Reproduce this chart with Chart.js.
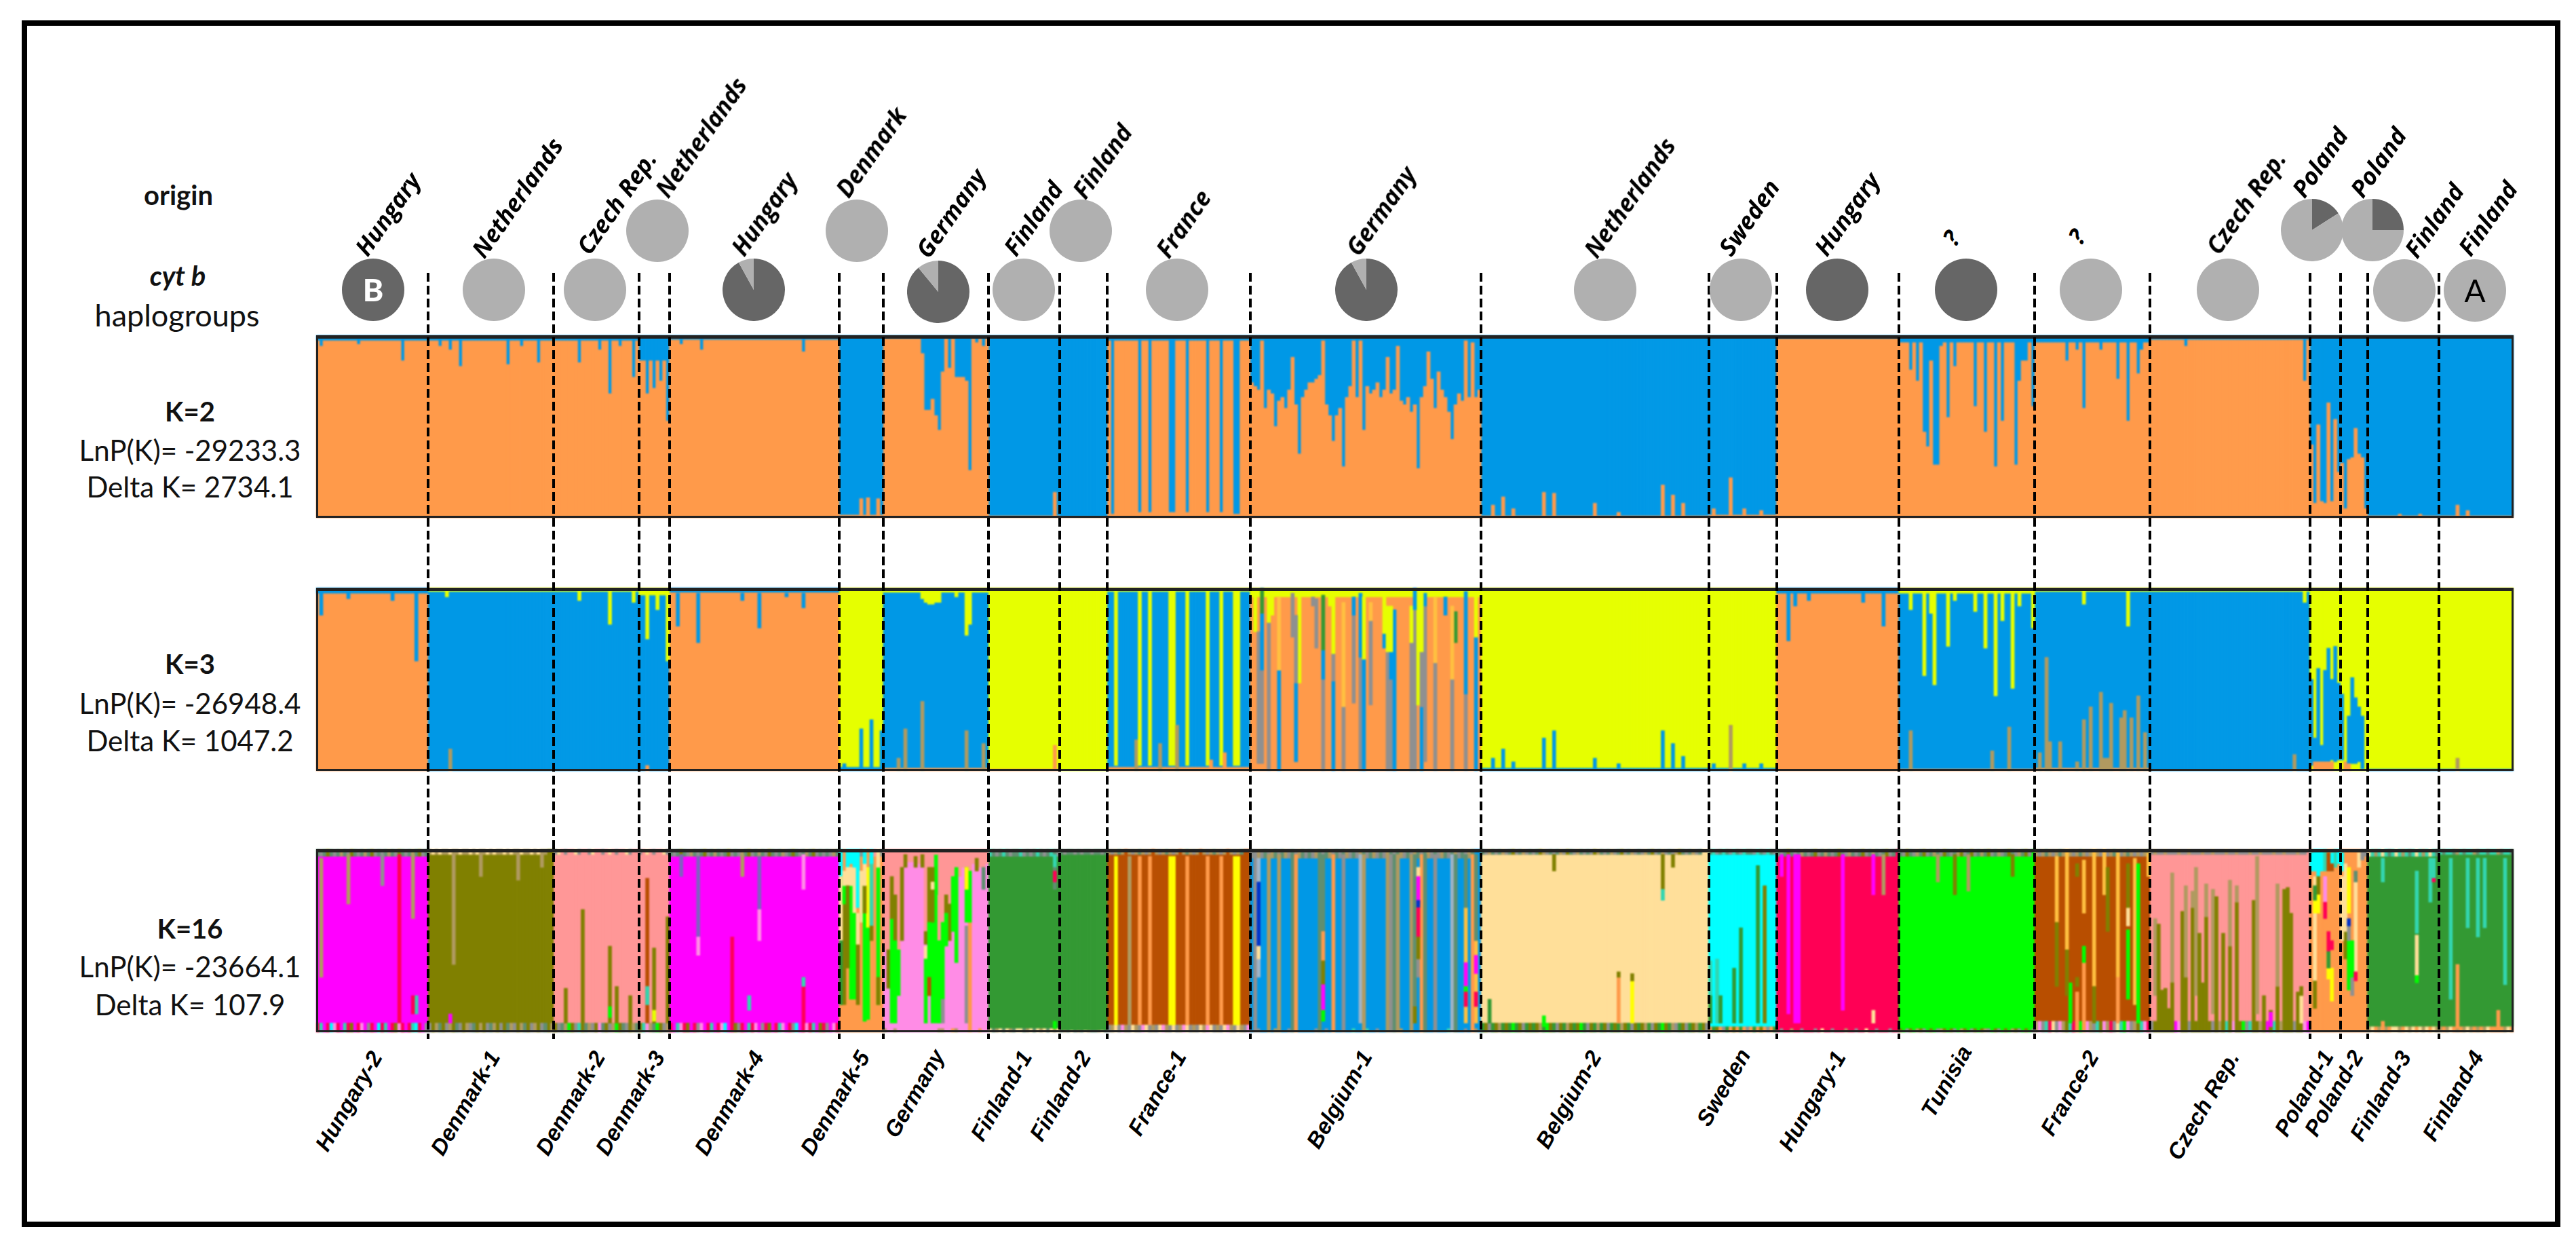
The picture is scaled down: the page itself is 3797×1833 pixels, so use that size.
<!DOCTYPE html>
<html lang="en">
<head>
<meta charset="UTF-8">
<title>Population structure by origin and cyt b haplogroup</title>
<script src="https://cdn.jsdelivr.net/npm/chart.js"></script>
<style>
  body { margin: 0; background: #fff; width: 3797px; height: 1833px; position: relative; overflow: hidden; }
  #frame { position: absolute; left: 32px; top: 30px; width: 3726px; height: 1762px; border: 8px solid #000; }
  .panel { position: absolute; left: 466px; width: 3239px; }
  .panel canvas { display: block; filter: blur(0.8px); }
  .panel .box { position: absolute; left: 0; top: 0; right: 0; bottom: 0; border: 3px solid #222; border-top-width: 5px; box-sizing: border-box; }
  .pie { position: absolute; width: 92px; height: 92px; }
  .sep { position: absolute; top: 402px; height: 1129px; width: 4px;
         background: repeating-linear-gradient(to bottom, #000 0 13px, transparent 13px 19px); }
  .txt { position: absolute; white-space: nowrap; color: #111; font-family: Lato, sans-serif; line-height: 1; transform: translate(-50%, -50%); }
  .origin { position: absolute; white-space: nowrap; color: #000; font: italic 700 35px "Open Sans", sans-serif; line-height: 1; transform-origin: 0 50%; transform: translateY(-50%) rotate(-55deg); }
  .group { position: absolute; white-space: nowrap; color: #000; font: italic bold 33px "Liberation Sans", sans-serif; line-height: 1; transform-origin: 0 50%; transform: translateY(-50%) rotate(-60deg); }
</style>
</head>
<body>
<div id="frame"></div>
<div class="panel" style="top:494px;height:269px"><canvas id="k2" width="3239" height="269"></canvas><div class="box"></div></div>
<div class="panel" style="top:866px;height:270px"><canvas id="k3" width="3239" height="270"></canvas><div class="box"></div></div>
<div class="panel" style="top:1251px;height:270px"><canvas id="k16" width="3239" height="270"></canvas><div class="box"></div></div>
<script>
const groupNames = ['Hungary-2','Denmark-1','Denmark-2','Denmark-3','Denmark-4','Denmark-5','Germany','Finland-1','Finland-2','France-1','Belgium-1','Belgium-2','Sweden','Hungary-1','Tunisia','France-2','Czech Rep.','Poland-1','Poland-2','Finland-3','Finland-4'];
const groupSizes = [33,37,25,9,50,13,31,21,14,42,68,67,20,36,40,34,47,9,8,21,22];
const originNames = ['Hungary','Netherlands','Czech Rep.','Netherlands','Hungary','Denmark','Germany','Finland','Finland','France','Germany','Netherlands','Sweden','Hungary','?','?','Czech Rep.','Poland','Poland','Finland','Finland'];

// cyt b haplogroup share per group, B (dark) then A (light), clockwise from 12 o'clock
const pieDark = [100,0,0,0,92,0,89,0,0,0,92,0,0,100,100,0,0,16,25,0,0];
const pieLight = [0,100,100,100,8,100,11,100,100,100,8,100,100,0,0,100,100,84,75,100,100];

// K=2: orange share of each individual, group level then the ones that differ
const k2Orange = [97,97,97,86,97.5,1.5,98,1,0.5,97,70,1,1.5,98,96,96,97.5,9,5,1,1];
const belgium1Orange = [74,72,70,97,60,70,68,50,64,66,60,70,88,62,35,66,70,74,74,76,78,97,62,56,42,56,60,28,66,72,97,66,97,48,72,68,70,74,66,70,88,68,70,94,64,62,66,58,62,27,66,72,91,76,60,80,70,66,58,43,62,68,64,97,66,96,66,70];
const k2Dips = [
  [[1,94],[25,86],[12,95]],
  [[3,94],[6,92],[9,83],[23,84],[27,94],[32,85]],
  [[7,85],[13,92],[16,68],[19,94],[23,77]],
  [[2,68],[4,71],[6,75],[8,53]],
  [[3,95],[9,92],[39,91]],
  [[6,10.5],[8,11],[11,10.5]],
  [[11,90],[12,59],[13,59],[14,65],[15,56],[16,48],[17,80],[19,82],[21,77],[22,77],[23,77],[24,75],[25,26],[27,96],[29,94]],
  [[19,14]],
  [],
  [[1,2],[9,3],[12,3],[18,3],[19,3],[23,3],[29,3],[33,3],[37,2],[38,2]],
  belgium1Orange.map((v, i) => [i, v]),
  [[3,7],[6,11.5],[9,5],[18,14],[21,13.5],[33,8],[40,3],[53,18],[56,12.5],[59,8]],
  [[1,5],[6,22],[10,5],[15,4]],
  [],
  [[3,81],[5,75],[7,47],[8,39],[9,86],[10,29],[11,29],[12,94],[14,55],[16,83],[22,61],[25,47],[28,28],[30,53],[34,29],[35,75],[36,86],[37,86],[39,61]],
  [[9,86],[12,92],[14,60],[19,92],[24,76],[27,53],[30,79],[31,92]],
  [[10,94],[45,75]],
  [[0,40],[2,51],[4,8],[5,63],[7,54],[8,25],[1,8],[3,9]],
  [[0,30],[2,32],[3,33],[4,49],[5,35],[6,33]],
  [[9,2],[15,2]],
  [[5,7],[8,4]]
];

// K=3: main cluster per group, thin strips at the top and bottom edge, then individual segments [i, cluster, from, to]
const k3Base = ['O','B','B','B','O','Y','B','Y','Y','B','O','Y','Y','O','B','B','B','Y','Y','Y','Y'];
const k3Top = ['B','Y','Y','Y','B','','Y','','','Y','Y','','','B','Y','Y','Y','','','',''];
const k3TopH = [3,2,2,4,2.5,0,2.5,0,0,2,5,0,0,3,3,2,2,0,0,0,0];
const k3Bottom = ['','','','','','B','O','O','','O','','B','B','','O','O','','','','B','B'];
const k3BottomH = [0,0,0,0,0,2,1.5,1,0,2,0,1.5,1.5,0,1,1.5,0,0,0,1,1];
const k3Spikes = [
  [[1,'B',85,97],[9,'B',94,97],[22,'B',93,97],[29,'B',60,97]],
  [[6,'Q',0,12],[5,'Y',95,100]],
  [[7,'Y',93,100],[16,'Y',80,100],[23,'Y',92,100]],
  [[2,'Y',72,100],[5,'Y',88,100],[8,'Y',60,100],[2,'O',0,3]],
  [[2,'B',79,97],[8,'B',70,97],[21,'B',93,97],[26,'B',78,97],[34,'B',95,97],[39,'B',89,97]],
  [[6,'B',0,23],[9,'B',0,28],[12,'B',0,22],[1,'B',0,4]],
  [[11,'Y',94,100],[12,'Y',92,100],[13,'Y',91,100],[14,'Y',91,100],[15,'Y',92,100],[16,'Y',92,100],[21,'Y',95,100],[24,'Y',74,100],[25,'Y',80,100],[4,'Q',0,7],[6,'Q',0,23],[11,'Q',0,38],[24,'Q',0,22],[29,'Q',0,15]],
  [[19,'O',0,14]],
  [],
  [[2,'Y',3,98],[9,'Y',3,98],[12,'Y',3,98],[18,'Y',3,98],[19,'Y',3,98],[23,'Y',3,98],[29,'Y',3,98],[33,'Y',3,98],[37,'Y',3,98],[38,'Y',3,98],[8,'Q',0,17],[15,'Q',0,15],[20,'Q',0,25],[30,'O',0,6],[34,'O',0,10]],
  [[1,'Y',76,100],[2,'S',4,76],[3,'S',4,55],[3,'B',55,86],[3,'G',86,100],[5,'S',0,81],[5,'Y',81,100],[6,'Y',85,100],[8,'B',0,55],[8,'A',55,95],[12,'S',73,97],[13,'B',5,48],[13,'S',48,85],[14,'Y',48,95],[18,'S',90,95],[19,'S',67,94],[21,'S',0,50],[21,'B',50,66],[21,'G',66,96],[23,'Y',90,100],[24,'B',0,49],[24,'S',49,64],[24,'Y',64,100],[27,'S',0,35],[27,'A',35,92],[30,'S',37,85],[30,'B',85,95],[32,'S',0,62],[32,'B',62,97],[33,'B',0,61],[33,'Y',61,95],[35,'S',36,82],[35,'A',82,92],[39,'B',67,75],[39,'Y',75,95],[40,'S',0,65],[40,'Y',65,90],[41,'S',0,50],[41,'B',50,65],[41,'Y',65,90],[42,'B',0,50],[42,'B',50,88],[47,'S',0,70],[47,'Y',70,90],[48,'S',0,88],[48,'B',88,100],[49,'Y',36,100],[50,'B',0,35],[50,'S',35,65],[50,'Y',65,100],[51,'S',5,90],[51,'B',90,97],[54,'S',0,59],[54,'A',59,95],[57,'B',85,95],[59,'S',0,50],[59,'A',50,90],[60,'G',70,87],[63,'S',0,42],[63,'B',42,98],[66,'B',0,73],[66,'Y',73,100]],
  [[3,'B',0,7],[6,'B',0,12],[9,'B',0,5],[18,'B',0,18],[21,'B',0,22],[33,'B',0,7],[40,'B',0,4],[53,'B',0,22],[56,'B',0,15],[59,'B',0,8]],
  [[1,'B',0,4],[6,'Q',0,25],[10,'B',0,4],[15,'B',0,4]],
  [[3,'B',71,97],[5,'B',90,97],[9,'B',93,97],[25,'B',92,97],[31,'B',79,97]],
  [[3,'Y',88,100],[7,'Y',52,100],[9,'Y',86,100],[10,'Y',47,100],[14,'Y',68,100],[16,'Y',93,100],[22,'Y',87,100],[25,'Y',67,100],[28,'Y',41,100],[30,'Y',82,100],[33,'Y',45,100],[35,'Y',90,100],[39,'Y',78,100],[3,'Q',0,22],[27,'Q',0,11],[32,'Q',0,24]],
  [[14,'Y',91,100],[27,'Y',79,100],[1,'Q',0,10],[3,'Q',0,62],[4,'Q',0,16],[7,'Q',0,16],[12,'Q',0,5],[14,'Q',0,28],[16,'Q',0,35],[19,'Q',0,43],[20,'Q',0,7],[21,'Q',0,7],[22,'Q',0,37],[25,'Q',0,29],[26,'Q',0,33],[28,'Q',0,29],[30,'Q',0,41],[32,'Q',0,21]],
  [[42,'Q',0,9],[45,'Y',92,100]],
  [[0,'B',3,50],[1,'B',4,18],[2,'B',3,56],[3,'B',5,14],[4,'B',3,55],[5,'B',4,67],[6,'B',6,50],[7,'B',5,68],[8,'B',6,48],[1,'O',0,5],[2,'O',0,5],[3,'O',0,5],[4,'O',0,5],[5,'O',0,5],[6,'O',0,5]],
  [[0,'B',6,42],[2,'B',3,30],[3,'B',4,51],[4,'B',4,40],[5,'B',5,35],[6,'B',1,30],[1,'O',0,5],[2,'O',0,4]],
  [],
  [[5,'Q',0,7]]
];

// K=16: main cluster per group, mottled edge strips (one letter per individual), then individual segments
const k16Base = ['M','V','P','P','M','O','I','G','G','R','B','W','C','H','L','R','P','O','O','G','G'];
const k16TopH = [4,3,3,3,4,0,0,4,3,3,5,3,3,4,4,4,3,0,0,4,3];
const k16BottomH = [5,5,5,5,5,0,2,2,1,4,2,5,3,2,2,6,6,0,0,3,3];
const k16TopNoise = [
  'DSDVDSDQDSVDSDQDVSDSDQDSVDSDQDVSD',
  'QWQWQQWQQWQQWQWQQWQWQQWQWQQWQQWQWQQ',
  'SWPSPPWSPPSWPPSPWPSPPWSPP',
  'SPWPSPPWS',
  'DSDVDSQDSDVSDQDSDVSDSQDVSDQDSVDSDQSDVDSDQDVSDSDSQD',
  '',
  '',
  'TDSDTDSDDTSDSDTDSDTDS',
  'DSDDSDSDDSDDSD',
  'QSQDQRQSQDQSQRQSQDQSQRQDQSQRQSQDQSQRQSQD',
  'SDQSDSQDSDQSDSQDSDSQDSDQSDSDQSDSQDSDQSDSQDSDQSDSQDSDQSDSQDSDQSDSQD',
  'DSQDSDQSDVSDQSDSDVQSDSDQSVDSQDSDSVQDSDQSDVSDQSDSQDVSDQSDSQVDSDQSD',
  'DTSDTDSTDSTDDSTDSTDS',
  'DSDVDSDQDSDVSDQDSDVDSQDSDVSDQDSDVSD',
  'DSVDSQDVSDQDSVDSDQVSDVSDQDVSDQSDVDSQDVS',
  'QSQDQSQDQSQSQDQSQDQSQSQDQSQDQSQSQD',
  'SQSSQSSSQSSQSSSQSSQSSSQSSQSSSQSSQSSSQSSQSSSQSS',
  '',
  '',
  'WTQTWTDTWTQTDTWTQTWTD',
  'TDTTDQTDTTQDTTDTTQDTTD'
];
const k16BottomNoise = [
  'HTMHCIHMTHVMHIMSHMCHTMHVIHMHTCHMS',
  'SVQDVSQVDSVQSDVQVSDQVSVDQSVQDVSQVSDVQ',
  'VSDQLVSTVDQSVIDVSQLVDSVQD',
  'VTIQDLVSQ',
  'HMTIHVMHSIMHTMHICMHVSHMTHIMSHVMHTIMHSCMHIHTMVHSMIH',
  '',
  'QIIQIIIIIIIIIIIIQQIIOQIIIQIIOII',
  'WDQWDWQDWWDQWDWQWDWQW',
  'DQDWDQDWQDDQWD',
  'SQWSIQSWQSIWSQSWIQSWSQIWSQSWQIWSQSWIQSWQSI',
  'BBSBBBBQBBBSBBBBBBBSBBSBBBBBBBTBBBTBBSBBBSBBQBBBBBBBBBSBBBTBBBBSBBQB',
  'GVSGVQGVGLGVSGVGVQGLVGSVGQVGVLGSVGQGVSGVGQVGSVGVQGSVGLVGQSGVSGVQGVS',
  'OGVOSGOVOGOSOGOVOSOG',
  'HSHHQHHSHHHSHWHHSHHHQHHSHHWHHSHHHSHH',
  'VLSVLQVSLVLSQVLVSLQVLSVLVQSLVSLVLQVSLVLS',
  'QISTHWSIQVTHSLWIQSTVIQHSWTLISQVTIH',
  'SVIQTVSMIVQSLVTQIVSMQVTSIQVLSTIVQSMVTSQIVTSQVIM',
  '',
  '',
  'QWOQWQOWWQOWQWOWQWOWQ',
  'QOQWOQOQWQOQOQWOOQOQWO'
];
const k16Spikes = [
  [[1,'Q',30,95],[9,'Q',70,97],[19,'S',80,97],[24,'H',5,97],[28,'Q',62,97],[28,'H',10,20],[29,'T',10,20]],
  [[6,'M',5,10],[7,'Q',37,97],[15,'Q',85,97],[26,'Q',83,97],[33,'Q',90,97]],
  [[3,'V',5,24],[8,'V',5,67],[16,'V',5,47],[18,'V',5,25],[22,'V',5,20],[16,'L',8,14]],
  [[2,'R',5,84],[2,'T',15,25],[4,'V',5,46],[8,'V',5,63],[4,'Y',6,12]],
  [[3,'X',85,97],[8,'X',52,96],[8,'I',42,52],[18,'H',5,52],[21,'Q',85,97],[26,'X',67,96],[26,'I',50,67],[39,'I',78,97],[39,'H',5,30],[39,'T',25,30],[23,'T',12,20]],
  [[0,'C',85,100],[0,'W',50,85],[0,'G',15,50],[1,'V',15,70],[1,'L',70,85],[1,'W',80,88],[2,'C',90,100],[2,'W',80,90],[2,'V',35,80],[3,'L',18,80],[3,'W',80,90],[4,'W',65,90],[4,'L',18,65],[5,'C',68,90],[5,'V',15,65],[5,'W',48,65],[6,'W',60,88],[7,'L',6,80],[7,'V',65,80],[7,'W',80,95],[8,'y',57,90],[8,'L',7,57],[9,'T',58,95],[9,'V',50,58],[11,'L',15,90],[11,'V',15,30],[3,'C',92,100],[5,'C',90,100],[7,'C',92,100],[9,'C',92,100],[11,'W',90,100],[12,'S',96,100],[10,'P',96,100],[6,'S',96,100],[4,'C',90,100]],
  [[0,'P',45,100],[1,'P',40,100],[1,'V',24,45],[2,'P',70,100],[2,'L',5,62],[2,'V',62,85],[3,'P',50,100],[3,'V',50,75],[3,'L',5,50],[4,'P',45,100],[4,'L',20,45],[5,'P',90,100],[5,'V',50,90],[6,'P',90,100],[6,'V',90,97],[7,'P',93,100],[8,'P',93,100],[9,'P',90,100],[9,'V',90,96],[10,'P',92,100],[11,'P',90,100],[11,'V',90,97],[12,'P',55,100],[12,'V',48,55],[12,'W',40,47],[12,'L',5,40],[13,'P',60,100],[13,'V',55,90],[13,'L',20,60],[13,'R',20,30],[14,'P',90,100],[14,'L',5,60],[14,'V',60,90],[14,'W',78,82],[15,'L',5,75],[15,'L',75,97],[15,'P',97,100],[16,'P',50,100],[16,'L',5,50],[17,'P',60,100],[17,'L',18,60],[17,'S',5,18],[18,'P',75,100],[18,'V',65,75],[18,'L',47,65],[19,'P',50,100],[19,'V',50,70],[20,'P',85,100],[20,'L',55,85],[21,'P',90,100],[21,'L',38,90],[22,'P',85,100],[23,'P',90,100],[24,'P',90,100],[24,'S',5,58],[24,'L',60,90],[24,'y',78,90],[25,'P',88,100],[25,'O',0,60],[25,'L',60,88],[26,'P',92,100],[27,'P',88,100],[27,'V',88,95],[28,'P',90,100],[29,'P',90,100],[29,'D',78,90],[30,'P',92,100]],
  [[19,'T',90,97],[19,'D',78,90],[19,'H',82,88],[19,'L',2,6]],
  [],
  [[2,'y',4,96],[6,'Q',4,96],[9,'O',4,96],[12,'O',4,96],[18,'y',4,96],[19,'y',4,96],[23,'O',4,96],[29,'O',4,96],[33,'O',4,96],[37,'y',4,96],[38,'y',4,96]],
  [[1,'S',0,100],[2,'E',30,95],[2,'N',47,82],[2,'W',40,47],[5,'Q',0,97],[8,'Q',0,97],[12,'D',0,97],[13,'O',0,97],[20,'D',0,97],[21,'D',55,97],[21,'O',39,55],[21,'V',26,39],[21,'M',12,26],[21,'L',6,12],[24,'O',0,97],[27,'S',0,97],[32,'E',5,97],[33,'Q',0,97],[40,'Q',0,97],[41,'S',0,97],[42,'D',0,97],[43,'Q',0,97],[47,'Q',0,97],[48,'D',14,97],[48,'V',5,14],[49,'S',30,85],[49,'W',85,90],[49,'M',70,85],[49,'N',68,72],[49,'H',52,68],[49,'V',40,52],[50,'O',0,97],[51,'D',0,97],[54,'S',0,97],[59,'E',0,97],[60,'D',0,97],[63,'A',5,68],[63,'D',68,97],[63,'M',25,38],[63,'L',22,25],[63,'H',14,22],[65,'O',0,97],[66,'A',5,50],[66,'M',32,42],[66,'H',14,22],[66,'D',50,97]],
  [[2,'G',5,18],[18,'L',3,9],[21,'V',88,97],[40,'O',5,30],[40,'V',30,33],[44,'y',5,28],[44,'V',28,32],[53,'V',78,97],[53,'T',72,78],[56,'V',90,97]],
  [[0,'T',5,39],[0,'G',5,20],[2,'T',5,40],[3,'G',5,20],[7,'G',5,35],[9,'G',5,57],[14,'G',5,91],[16,'V',5,80]],
  [[1,'M',85,97],[3,'M',10,97],[5,'M',5,97],[6,'M',5,97],[19,'M',12,97],[28,'W',5,12],[28,'M',75,97],[31,'Q',75,97]],
  [[11,'Q',82,97],[16,'V',75,97],[20,'Q',77,97],[33,'V',85,97]],
  [[6,'A',60,96],[6,'V',25,60],[9,'A',45,100],[9,'V',20,45],[10,'L',5,27],[12,'V',85,92],[12,'O',0,22],[12,'V',25,30],[14,'O',0,38],[14,'L',38,47],[14,'A',65,94],[17,'A',25,100],[17,'V',5,25],[20,'A',75,100],[21,'V',55,90],[24,'A',30,98],[24,'O',5,30],[27,'L',18,56],[27,'W',58,68],[27,'V',68,92],[29,'A',15,95],[30,'L',5,92],[33,'A',85,98]],
  [[1,'Q',20,62],[2,'V',0,59],[3,'V',0,23],[4,'V',0,24],[5,'V',0,13],[6,'Q',27,87],[6,'V',0,27],[9,'V',0,66],[10,'V',0,30],[10,'Q',30,80],[12,'V',0,68],[12,'Q',68,77],[13,'Q',20,90],[14,'V',0,54],[15,'V',0,27],[16,'V',0,63],[16,'Q',63,81],[18,'Q',10,78],[19,'V',0,74],[21,'V',0,54],[23,'V',0,47],[23,'Q',47,83],[25,'V',0,71],[25,'Q',71,80],[30,'V',0,72],[31,'Q',10,96],[33,'V',0,20],[35,'V',0,12],[35,'M',3,11],[37,'V',0,25],[37,'Q',25,81],[39,'V',0,78],[40,'V',0,79],[41,'V',0,65],[43,'V',0,22],[44,'W',5,20],[44,'V',20,25]],
  [[0,'C',88,98],[1,'W',28,85],[1,'V',13,28],[1,'C',88,100],[1,'y',65,73],[1,'G',72,80],[2,'C',85,100],[2,'V',75,85],[2,'y',65,75],[3,'C',88,100],[4,'I',71,85],[4,'H',62,71],[4,'T',88,100],[5,'y',29,55],[5,'H',44,55],[5,'G',35,44],[5,'R',88,98],[6,'y',17,35],[6,'H',45,50],[6,'C',88,98],[6,'R',88,92],[7,'T',90,100],[8,'C',92,100]],
  [[0,'C',88,98],[0,'W',50,85],[1,'V',40,55],[1,'W',55,92],[2,'L',23,60],[2,'S',50,60],[2,'N',58,62],[2,'y',65,90],[3,'S',20,30],[3,'L',30,50],[4,'W',28,85],[4,'H',28,33],[4,'D',82,88],[5,'W',90,98],[6,'S',94,100],[7,'S',96,100]],
  [[4,'T',82,95],[4,'O',0,6],[14,'T',54,88],[14,'W',31,53],[14,'L',27,31],[18,'T',71,95],[19,'T',83,95],[19,'H',82,84]],
  [[3,'T',18,95],[5,'O',2,37],[8,'T',57,95],[11,'T',52,95],[13,'T',57,95],[17,'O',0,12],[19,'T',26,95]]
];

const clusterColor = {
  O:'#FF9A4A', B:'#0098E6', Y:'#E6FF00', M:'#FF00FF', V:'#808000', P:'#FF9696', G:'#339933', R:'#B84E00',
  W:'#FFDF99', C:'#00FFFF', H:'#FF0055', L:'#00FF00', I:'#FF8CE6', y:'#FFFF00', N:'#0033CC', T:'#33D6B0',
  S:'#8F9090', D:'#5F8F70', Q:'#B09A60', E:'#9FB4C8', A:'#FFC040', X:'#8060C0'
};

const totalBars = groupSizes.reduce((a, b) => a + b, 0);
const barLabels = [];
groupSizes.forEach((n, g) => { for (let i = 0; i < n; i++) barLabels.push(groupNames[g] + ' ' + (i + 1)); });

// every segment of an individual goes in its own layer, later layers paint over earlier ones
function buildLayers(base, top, topH, bottom, bottomH, spikes) {
  const layers = [];
  let idx = 0;
  function put(k, c, lo, hi) {
    if (!layers[k]) layers[k] = { data: new Array(totalBars).fill(null), backgroundColor: new Array(totalBars).fill('#fff'), borderWidth: 0 };
    layers[k].data[idx] = [lo, hi];
    layers[k].backgroundColor[idx] = clusterColor[c];
  }
  groupSizes.forEach((n, g) => {
    for (let i = 0; i < n; i++) {
      let k = 0;
      put(k++, base[g], 0, 100);
      const tc = top[g].length > 1 ? top[g][i] : top[g];
      if (tc && topH[g]) put(k++, tc, 100 - topH[g], 100);
      const bc = bottom[g].length > 1 ? bottom[g][i] : bottom[g];
      if (bc && bottomH[g]) put(k++, bc, 0, bottomH[g]);
      spikes[g].forEach(s => { if (s[0] === i) put(k++, s[1], s[2], s[3]); });
      idx++;
    }
  });
  // chart.js paints dataset 0 last
  return layers.reverse();
}

function k2Layers() {
  const orange = [];
  const blue = [];
  groupSizes.forEach((n, g) => {
    for (let i = 0; i < n; i++) {
      const dip = k2Dips[g].find(d => d[0] === i);
      const v = dip ? dip[1] : k2Orange[g];
      orange.push(v);
      blue.push(100 - v);
    }
  });
  return [
    { data: orange, backgroundColor: clusterColor.O, borderWidth: 0 },
    { data: blue, backgroundColor: clusterColor.B, borderWidth: 0 }
  ];
}

function drawPanel(id, datasets, stackY) {
  return new Chart(document.getElementById(id), {
    type: 'bar',
    data: { labels: barLabels, datasets: datasets },
    options: {
      responsive: false,
      animation: false,
      barPercentage: 1,
      categoryPercentage: 1,
      layout: { padding: 0 },
      plugins: { legend: { display: false }, tooltip: { enabled: false } },
      scales: {
        x: { display: false, stacked: true },
        y: { display: false, stacked: stackY, min: 0, max: 100 }
      }
    }
  });
}

drawPanel('k2', k2Layers(), true);
drawPanel('k3', buildLayers(k3Base, k3Top, k3TopH, k3Bottom, k3BottomH, k3Spikes), false);
const k16Chart = drawPanel('k16', buildLayers(k16Base, k16TopNoise, k16TopH, k16BottomNoise, k16BottomH, k16Spikes), false);

// dashed separators sit on the group boundaries of the bar scale
let cum = 0;
groupSizes.slice(0, -1).forEach(n => {
  cum += n;
  const s = k16Chart.scales.x;
  const px = (s.getPixelForValue(cum - 1) + s.getPixelForValue(cum)) / 2;
  const d = document.createElement('div');
  d.className = 'sep';
  d.style.left = (466 + px - 2) + 'px';
  document.body.appendChild(d);
});

// pies
const pieLeft = [550,728,877,969,1111,1263,1383,1509,1593,1735,2014,2366,2566,2708,2898,3082,3284,3408,3497,3544,3648];
const pieTop = [427,427,427,340,427,340,430,427,340,427,427,427,427,427,427,427,427,339,339,428,428];
pieDark.forEach((v, g) => {
  const c = document.createElement('canvas');
  c.className = 'pie';
  c.width = 92;
  c.height = 92;
  c.style.left = (pieLeft[g] - 46) + 'px';
  c.style.top = (pieTop[g] - 46) + 'px';
  document.body.appendChild(c);
  new Chart(c, {
    type: 'pie',
    data: { labels: ['B', 'A'], datasets: [{ data: [v, pieLight[g]], backgroundColor: ['#666666', '#B0B0B0'], borderWidth: 0 }] },
    options: { responsive: false, animation: false, layout: { padding: 0 }, plugins: { legend: { display: false }, tooltip: { enabled: false } } }
  });
});

function addText(cls, text, x, y, style) {
  const d = document.createElement('div');
  d.className = cls;
  d.textContent = text;
  d.style.left = x + 'px';
  d.style.top = y + 'px';
  if (style) d.style.cssText += style;
  document.body.appendChild(d);
}

const originX = [531,703,858,974,1086,1240,1358,1487,1589,1712,1992,2343,2541,2682,2871,3056,3260,3386,3472,3552,3631];
const originY = [372,375,370,286,372,286,375,372,288,375,372,375,372,372,357,355,370,286,286,375,372];
originNames.forEach((t, g) => addText('origin', t, originX[g], originY[g]));

const groupX = [473,643,798,886,1032,1188,1312,1439,1526,1671,1934,2272,2509,2630,2840,3016,3203,3361,3405,3472,3579];
const groupY = [1693,1699,1699,1699,1699,1699,1673,1678,1678,1670,1689,1689,1656,1693,1643,1670,1706,1671,1671,1678,1678];
groupNames.forEach((t, g) => addText('group', t, groupX[g], groupY[g]));

addText('txt', 'origin', 263, 287, 'font-size:40px;font-weight:700');
addText('txt', 'cyt b', 262, 406, 'font-size:40px;font-weight:700;font-style:italic');
addText('txt', 'haplogroups', 261, 464, 'font-size:45px');
const kLabels = ['K=2', 'K=3', 'K=16'];
const lnP = ['LnP(K)= -29233.3', 'LnP(K)= -26948.4', 'LnP(K)= -23664.1'];
const deltaK = ['Delta K= 2734.1', 'Delta K= 1047.2', 'Delta K= 107.9'];
const kRowY = [[606, 663, 717], [978, 1036, 1091], [1368, 1424, 1480]];
kLabels.forEach((t, i) => {
  addText('txt', t, 280, kRowY[i][0], 'font-size:40px;font-weight:700');
  addText('txt', lnP[i], 280, kRowY[i][1], 'font-size:42px');
  addText('txt', deltaK[i], 280, kRowY[i][2], 'font-size:42px');
});
addText('txt', 'B', 550, 427, 'font-size:46px;font-weight:900;color:#fff');
addText('txt', 'A', 3648, 428, 'font-size:46px;color:#000');
</script>
</body>
</html>
